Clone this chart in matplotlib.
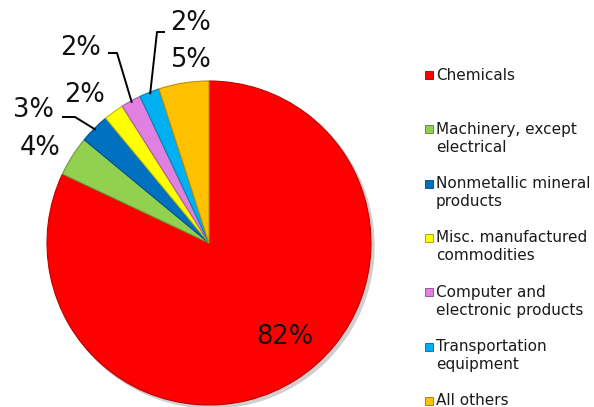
import matplotlib
matplotlib.use('Agg')
import matplotlib.pyplot as plt
import numpy as np
from matplotlib.patches import Circle, Rectangle
import matplotlib.colors as mcolors

categories = ["Chemicals", "Machinery, except\nelectrical", "Nonmetallic mineral\nproducts",
              "Misc. manufactured\ncommodities", "Computer and\nelectronic products",
              "Transportation\nequipment", "All others"]
values = [82, 4, 3, 2, 2, 2, 5]
pct_labels = ["82%", "4%", "3%", "2%", "2%", "2%", "5%"]
colors = ["#FF0000", "#92D050", "#0070C0", "#FFFF00", "#E080E0", "#00B0F0", "#FFC000"]

W, H = 594, 407
fig = plt.figure(figsize=(W / 100, H / 100), dpi=100)
ax = fig.add_axes([0, 0, 1, 1])
cx, cy, R = 209, H - 243, 162

def darker(c, f=0.75):
    r, g, b = mcolors.to_rgb(c)
    return (r * f, g * f, b * f)

# soft shadow
ax.add_patch(Circle((cx + 3, cy - 3), R, color='#cfcfcf', zorder=0))

wedges, _ = ax.pie(values, colors=colors, startangle=90, counterclock=False,
                   center=(cx, cy), radius=R, frame=True,
                   wedgeprops=dict(linewidth=0.8))
for w, c in zip(wedges, colors):
    w.set_edgecolor(darker(c))
    w.set_zorder(2)

# percentage label positions (pixel layout)
label_pos = [(285, 337), (40, 148), (33, 110), (85, 95), (81, 48), (190, 23), (190, 60)]
for (lx, ly), t in zip(label_pos, pct_labels):
    ax.text(lx, H - ly, t, fontsize=18.5, ha='center', va='center', color='#111111',
            family='DejaVu Sans', zorder=5)

# leader lines
leaders = {2: [(62, 117), (75, 117)], 4: [(108, 53), (117, 53)], 5: [(165, 32), (157, 32)]}
for i, pts in leaders.items():
    w = wedges[i]
    mid = np.deg2rad((w.theta1 + w.theta2) / 2)
    ex, ey = cx + (R - 2) * np.cos(mid), cy + (R - 2) * np.sin(mid)
    xs = [p[0] for p in pts] + [ex]
    ys = [H - p[1] for p in pts] + [ey]
    ax.plot(xs, ys, color='black', lw=1.4, zorder=4, solid_capstyle='butt')

# legend (manual)
leg_x_sq, leg_x_txt = 425, 436
y0, dy, line_h = 75, 54.3, 18
for i, (cat, c) in enumerate(zip(categories, colors)):
    yc = y0 + i * dy
    ax.add_patch(Rectangle((leg_x_sq, H - yc - 4), 8, 8, facecolor=c,
                           edgecolor=darker(c, 0.6), lw=0.6, zorder=3))
    for k, line in enumerate(cat.split("\n")):
        ax.text(leg_x_txt, H - (yc + k * line_h), line, fontsize=11, ha='left',
                va='center', color='#1a1a1a', family='DejaVu Sans')

ax.set_xlim(0, W)
ax.set_ylim(0, H)
ax.set_aspect('equal')
ax.axis('off')
fig.savefig('out.png', dpi=100)
